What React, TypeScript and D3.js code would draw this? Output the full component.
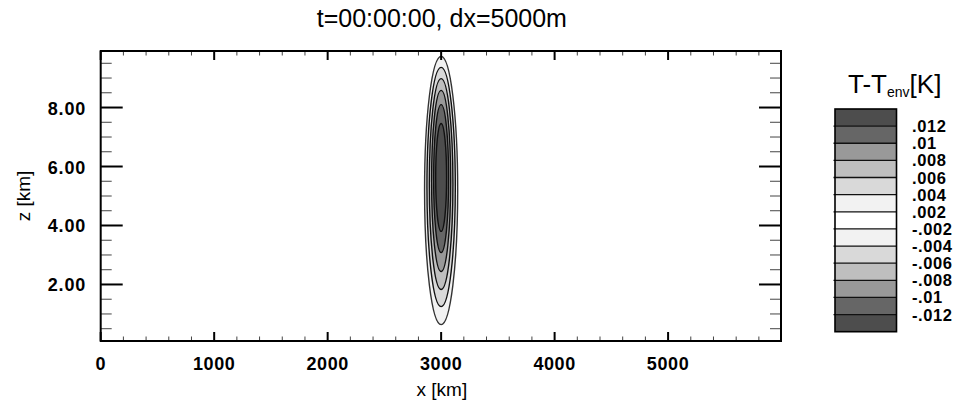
import React from "react";
import * as d3 from "d3";

// ---- data ----
const titleText = "t=00:00:00, dx=5000m";
const xMajorTicks = [0, 1000, 2000, 3000, 4000, 5000];
const yMajorTicks = [2, 4, 6, 8];
const yTickLabels = ["2.00", "4.00", "6.00", "8.00"];

// contour levels of T-Tenv (K) with their extent
const contourLevels = [0.002, 0.004, 0.006, 0.008, 0.01, 0.012];
const contourTopKm = [9.73, 9.36, 8.98, 8.58, 8.1, 7.46];
const contourBottomKm = [0.64, 1.25, 1.83, 2.44, 3.08, 3.8];
const contourHalfWidthKm = [146, 125, 104, 84, 66, 48];
const bubbleCenterXKm = 3000;

// label bar
const barColors = [
  "#4d4d4d", "#666666", "#999999", "#bfbfbf", "#d9d9d9", "#f2f2f2", "#ffffff",
  "#f2f2f2", "#d9d9d9", "#bfbfbf", "#999999", "#666666", "#4d4d4d",
];
const barLabels = [
  ".012", ".01", ".008", ".006", ".004", ".002",
  "-.002", "-.004", "-.006", "-.008", "-.01", "-.012",
];
// fill colours for regions above each positive level
const levelFills = ["#f2f2f2", "#d9d9d9", "#bfbfbf", "#999999", "#666666", "#4d4d4d"];

const W = 965;
const H = 405;
const FONT = "'Liberation Sans', Arial, Helvetica, sans-serif";

export default function App() {
  const x = d3.scaleLinear().domain([0, 5995]).range([100.7, 781]);
  const y = d3.scaleLinear().domain([0.0833, 9.9167]).range([341, 51]);
  const [x0, x1] = x.range();
  const [yb, yt] = y.range();

  const xMinor = d3.range(200, 6000, 200).filter((v) => v % 1000 !== 0 && v <= 5995);
  const yMinor = d3.range(0.5, 10, 0.5).filter((v) => v % 2 !== 0 && v <= 9.9);

  const bar = d3.scaleBand<number>().domain(d3.range(barColors.length)).range([109, 331.7]).padding(0);
  const barX0 = 835;
  const barX1 = 896.5;

  return (
    <svg
      width={W}
      height={H}
      viewBox={`0 0 ${W} ${H}`}
      style={{ position: "absolute", left: 0, top: 0, background: "#fff" }}
      fontFamily={FONT}
    >
      <rect x={0} y={0} width={W} height={H} fill="#fff" />
      <defs>
        <clipPath id="plotclip">
          <rect x={x0} y={yt} width={x1 - x0} height={yb - yt} />
        </clipPath>
      </defs>

      {/* title */}
      <text x={(x0 + x1) / 2 + 1} y={27} textAnchor="middle" fontSize={25} fill="#000">
        {titleText}
      </text>

      {/* filled contours */}
      <g clipPath="url(#plotclip)">
        {contourLevels.map((lv, i) => {
          const cx = x(bubbleCenterXKm);
          const rx = x(bubbleCenterXKm + contourHalfWidthKm[i]) - cx;
          const cy = y((contourTopKm[i] + contourBottomKm[i]) / 2);
          const ry = (y(contourBottomKm[i]) - y(contourTopKm[i])) / 2;
          return (
            <ellipse
              key={lv}
              cx={cx}
              cy={cy}
              rx={rx}
              ry={ry}
              fill={levelFills[i]}
              stroke={i === 0 ? "#333" : "#111"}
              strokeWidth={1.4}
            />
          );
        })}
      </g>

      {/* ticks: x bottom & top */}
      <g stroke="#000">
        {xMajorTicks.map((v) => (
          <g key={"xM" + v}>
            <line x1={x(v)} x2={x(v)} y1={yb} y2={yb - 9} strokeWidth={2} />
            <line x1={x(v)} x2={x(v)} y1={yt} y2={yt + 9} strokeWidth={2} />
          </g>
        ))}
        {xMinor.map((v) => (
          <g key={"xm" + v}>
            <line x1={x(v)} x2={x(v)} y1={yb} y2={yb - 4.5} strokeWidth={1} stroke="#444" />
            <line x1={x(v)} x2={x(v)} y1={yt} y2={yt + 4.5} strokeWidth={1} stroke="#444" />
          </g>
        ))}
        {yMajorTicks.map((v) => (
          <g key={"yM" + v}>
            <line x1={x0} x2={x0 + 22} y1={y(v)} y2={y(v)} strokeWidth={2} />
            <line x1={x1} x2={x1 - 22} y1={y(v)} y2={y(v)} strokeWidth={2} />
          </g>
        ))}
        {yMinor.map((v) => (
          <g key={"ym" + v}>
            <line x1={x0} x2={x0 + 11} y1={y(v)} y2={y(v)} strokeWidth={1} stroke="#444" />
            <line x1={x1} x2={x1 - 11} y1={y(v)} y2={y(v)} strokeWidth={1} stroke="#444" />
          </g>
        ))}
      </g>

      {/* frame */}
      <rect x={x0} y={yt} width={x1 - x0} height={yb - yt} fill="none" stroke="#000" strokeWidth={2} />

      {/* tick labels */}
      <g fontSize={18} fontWeight="bold" fill="#000">
        {xMajorTicks.map((v) => (
          <text key={"xl" + v} x={x(v)} y={370} textAnchor="middle" letterSpacing={0.6}>
            {String(v)}
          </text>
        ))}
        {yMajorTicks.map((v, i) => (
          <text key={"yl" + v} x={86} y={y(v) + 7} textAnchor="end" letterSpacing={0.8}>
            {yTickLabels[i]}
          </text>
        ))}
      </g>

      {/* axis titles */}
      <text x={(x0 + x1) / 2 + 1} y={396} textAnchor="middle" fontSize={19} fill="#000">
        x [km]
      </text>
      <text
        transform={`translate(30,196) rotate(-90)`}
        textAnchor="middle"
        fontSize={19}
        fill="#000"
      >
        z [km]
      </text>

      {/* label bar */}
      <text x={848} y={93} fontSize={26} fill="#000">
        T-T
        <tspan fontSize={14} dy={4}>env</tspan>
        <tspan dy={-4}>[K]</tspan>
      </text>
      <g>
        {barColors.map((c, i) => (
          <rect
            key={"b" + i}
            x={barX0}
            y={bar(i)!}
            width={barX1 - barX0}
            height={bar.bandwidth()}
            fill={c}
          />
        ))}
        {barLabels.map((_, i) => {
          const yy = bar(i)! + bar.bandwidth();
          return (
            <line key={"bl" + i} x1={barX0 - 1.5} x2={barX1} y1={yy} y2={yy} stroke="#111" strokeWidth={1.3} />
          );
        })}
        <rect
          x={barX0}
          y={bar.range()[0]}
          width={barX1 - barX0}
          height={bar.range()[1] - bar.range()[0]}
          fill="none"
          stroke="#000"
          strokeWidth={1.6}
        />
      </g>
      <g fontSize={16.5} fontWeight="bold" fill="#000">
        {barLabels.map((l, i) => (
          <text key={"lbl" + i} x={912} y={bar(i)! + bar.bandwidth() + 6} letterSpacing={0.6}>
            {l}
          </text>
        ))}
      </g>
    </svg>
  );
}
